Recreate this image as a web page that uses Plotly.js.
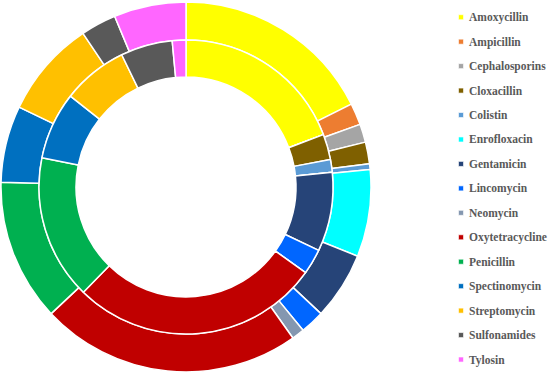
<!DOCTYPE html>
<html>
<head>
<meta charset="utf-8">
<script src="https://cdn.plot.ly/plotly-3.0.1.min.js"></script>
<style>html,body{margin:0;padding:0;background:#fff;}#chart{width:550px;height:375px;}</style>
</head>
<body>
<div id="chart"></div>
<script>
// Antibiotic categories (legend order)
const labels = ["Amoxycillin","Ampicillin","Cephalosporins","Cloxacillin","Colistin","Enrofloxacin","Gentamicin","Lincomycin","Neomycin","Oxytetracycline","Penicillin","Spectinomycin","Streptomycin","Sulfonamides","Tylosin"];
// Outer ring shares (%)
const outerValues = [17.6,1.9,1.6,1.9,0.5,7.6,5.9,2.1,1.1,22.8,12.4,6.7,8.5,3.1,6.3];
// Inner ring shares (%)
const innerValues = [19.2,0,0,2.8,1.4,0,8.7,2.8,0,27.4,15.9,7.4,7.2,5.7,1.5];
const colors = ["#FFFF00","#ED7D31","#A5A5A5","#7F6000","#5B9BD5","#00FFFF","#264478","#0066FF","#8497B0","#C00000","#00B050","#0070C0","#FFC000","#595959","#FF66FF"];

const W = 550, H = 375;
const cx = 186, cy = 187;
const rOuter = 185, rMid = 147, rInner = 110;
function dom(r){ return {x:[(cx-r)/W,(cx+r)/W], y:[(H-cy-r)/H,(H-cy+r)/H]}; }

const common = {type:'pie', labels:labels, sort:false, direction:'clockwise', rotation:0,
  textinfo:'none', hoverinfo:'label+percent', marker:{colors:colors, line:{color:'#ffffff', width:1.5}}};

const data = [
  Object.assign({}, common, {values:outerValues, hole:rMid/rOuter, domain:dom(rOuter), name:'outer'}),
  Object.assign({}, common, {values:innerValues, hole:rInner/rMid, domain:dom(rMid), name:'inner'})
];

const layout = {
  width:W, height:H, margin:{l:0,r:0,t:0,b:0, autoexpand:false},
  paper_bgcolor:'#fff', plot_bgcolor:'#fff',
  showlegend:true,
  legend:{x:429/W, xanchor:'left', y:1, yanchor:'top', bgcolor:'rgba(0,0,0,0)',
    font:{family:'"Liberation Serif", serif', size:16.5, color:'#595959', weight:'bold'}, traceorder:'normal'}
};

Plotly.newPlot('chart', data, layout, {displayModeBar:false, staticPlot:true}).then(function(gd){
  gd.querySelectorAll('.legendpie').forEach(function(p){ p.setAttribute('transform','translate(32,0) scale(0.42)'); });
  gd.querySelectorAll('.legendtext').forEach(function(t){ t.style.fontSize='11.5px'; t.setAttribute('y','4'); });
});
</script>
</body>
</html>
